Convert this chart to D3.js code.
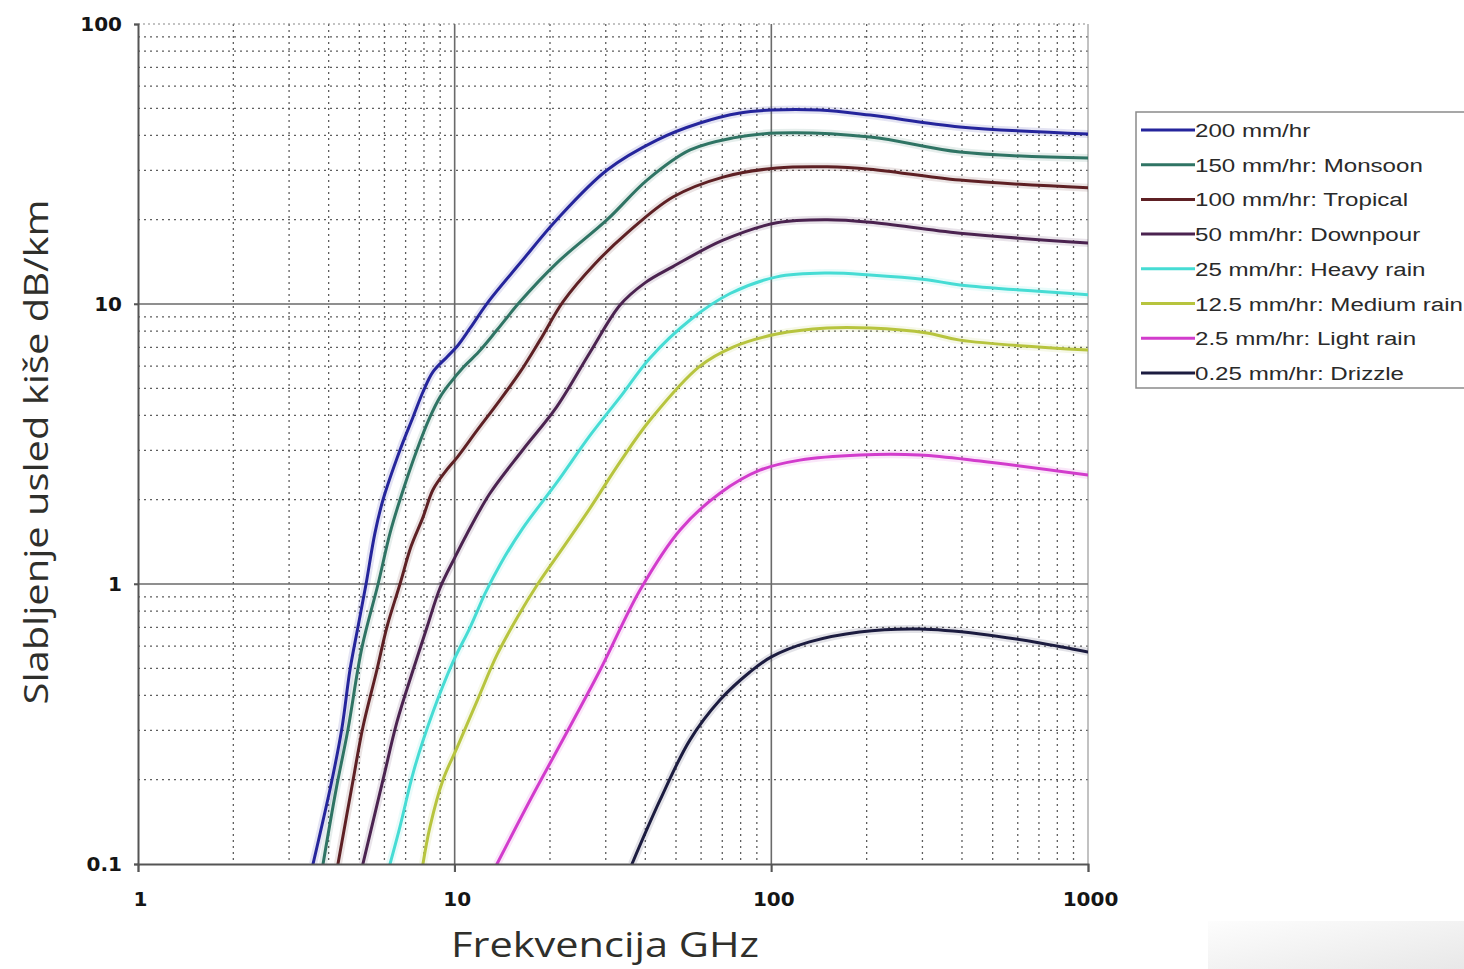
<!DOCTYPE html>
<html>
<head>
<meta charset="utf-8">
<script src="https://cdn.jsdelivr.net/npm/d3@7"></script>
<style>
  html, body { margin: 0; padding: 0; background: #ffffff; }
  svg { display: block; }
</style>
</head>
<body>
<svg id="chart" width="1464" height="969"></svg>
<script>
// Rain attenuation (dB/km) against frequency (GHz), one curve per rain rate.
const xTickLabels = ["1", "10", "100", "1000"];
const yTickLabels = ["0.1", "1", "10", "100"];
const xTickValues = [1, 10, 100, 1000];
const yTickValues = [0.1, 1, 10, 100];

const seriesNames = [
  "200 mm/hr",
  "150 mm/hr: Monsoon",
  "100 mm/hr: Tropical",
  "50 mm/hr: Downpour",
  "25 mm/hr: Heavy rain",
  "12.5 mm/hr: Medium rain",
  "2.5 mm/hr: Light rain",
  "0.25 mm/hr: Drizzle"
];

const r200Freq = [3.57, 4.10, 4.41, 4.67, 4.95, 5.25, 5.60, 5.94, 6.72, 7.39, 7.94, 8.54, 9.46, 10.2, 11.2, 12.7, 16.1, 21.0, 30.3, 43.5, 59.5, 79.6, 100, 142, 205, 394, 1000];
const r200Att  = [0.1, 0.20, 0.308, 0.493, 0.702, 1.0, 1.52, 2.0, 3.01, 3.95, 4.85, 5.72, 6.47, 7.08, 8.21, 10.1, 14.0, 20.0, 30.1, 38.5, 44.3, 48.1, 49.3, 49.3, 47.3, 42.9, 40.5];

const r150Freq = [3.84, 4.22, 4.60, 5.10, 5.73, 6.25, 6.72, 7.60, 8.36, 8.99, 9.67, 10.6, 11.9, 13.6, 16.1, 21.0, 30.3, 40.5, 55.4, 75.7, 104, 205, 394, 1000];
const r150Att  = [0.1, 0.184, 0.301, 0.596, 1.0, 1.52, 2.0, 3.01, 3.95, 4.65, 5.22, 5.91, 6.74, 8.07, 10.2, 14.0, 20.0, 27.7, 35.5, 39.2, 40.8, 39.5, 34.9, 33.2];

const r100Freq = [4.28, 4.78, 5.13, 5.68, 6.11, 6.72, 7.28, 7.94, 8.54, 9.32, 10.2, 11.8, 13.6, 16.1, 18.6, 22.0, 27.7, 35.0, 48.9, 70.4, 104, 150, 205, 394, 1000];
const r100Att  = [0.1, 0.2, 0.308, 0.493, 0.702, 1.0, 1.36, 1.73, 2.17, 2.51, 2.84, 3.55, 4.39, 5.72, 7.43, 10.2, 13.9, 17.9, 24.1, 28.4, 30.6, 30.9, 30.3, 27.7, 26.0];

const r50Freq = [5.13, 5.94, 6.57, 7.39, 8.18, 8.99, 10.0, 10.9, 12.9, 16.4, 21.0, 26.8, 33.3, 39.9, 48.9, 70.4, 104, 150, 205, 394, 1000];
const r50Att  = [0.1, 0.2, 0.321, 0.493, 0.702, 0.968, 1.24, 1.50, 2.10, 3.01, 4.29, 6.74, 9.92, 11.9, 13.6, 16.9, 19.5, 20.0, 19.6, 17.9, 16.5];

const r25Freq = [6.25, 6.72, 7.44, 8.54, 9.88, 11.2, 12.5, 13.9, 16.4, 21.0, 26.8, 33.3, 41.4, 55.4, 74.1, 104, 150, 205, 310, 394, 1000];
const r25Att  = [0.1, 0.136, 0.217, 0.349, 0.527, 0.702, 0.929, 1.17, 1.58, 2.30, 3.40, 4.65, 6.42, 8.77, 10.9, 12.5, 12.9, 12.7, 12.2, 11.7, 10.8];

const r12Freq = [7.94, 8.36, 9.19, 10.2, 11.8, 13.6, 15.8, 18.3, 22.3, 26.8, 33.3, 41.4, 59.5, 75.7, 104, 150, 205, 310, 394, 1000];
const r12Att  = [0.1, 0.136, 0.2, 0.262, 0.385, 0.558, 0.762, 1.0, 1.38, 1.87, 2.73, 3.85, 6.0, 7.02, 7.81, 8.21, 8.21, 7.88, 7.43, 6.85];

const r2Freq = [13.6, 17.3, 21.5, 28.8, 38.5, 51.5, 68.8, 92, 123, 190, 294, 456, 1000];
const r2Att  = [0.1, 0.169, 0.266, 0.493, 0.952, 1.56, 2.11, 2.55, 2.77, 2.89, 2.89, 2.75, 2.45];

const r025Freq = [36.3, 44.5, 55.3, 68.8, 85.6, 100, 132, 190, 294, 456, 705, 1000];
const r025Att  = [0.1, 0.169, 0.277, 0.385, 0.485, 0.549, 0.621, 0.674, 0.69, 0.663, 0.616, 0.572];

const seriesColors = ["#25259c", "#2f7464", "#5e2024", "#4b2350", "#46dcd4", "#b7c43e", "#d23ccc", "#1c1c40"];

const seriesFreq = [r200Freq, r150Freq, r100Freq, r50Freq, r25Freq, r12Freq, r2Freq, r025Freq];
const seriesAtt  = [r200Att, r150Att, r100Att, r50Att, r25Att, r12Att, r2Att, r025Att];

const series = seriesNames.map((name, i) => ({
  name,
  color: seriesColors[i],
  points: seriesFreq[i].map((f, j) => ({ f, a: seriesAtt[i][j] }))
}));

const svg = d3.select("#chart");
const plot = { left: 138, right: 1088, top: 24, bottom: 864 };

const x = d3.scaleLog().domain([1, 1000]).range([plot.left, plot.right]);
const y = d3.scaleLog().domain([0.1, 100]).range([plot.bottom, plot.top]);

// soft gray panel in the lower right corner of the page
const defs = svg.append("defs");
const grad = defs.append("linearGradient").attr("id", "panelFade")
  .attr("x1", "0%").attr("x2", "100%").attr("y1", "0%").attr("y2", "100%");
grad.append("stop").attr("offset", "0%").attr("stop-color", "#fdfdfd");
grad.append("stop").attr("offset", "100%").attr("stop-color", "#e8e8e8");
svg.append("rect").attr("x", 1208).attr("y", 921).attr("width", 256).attr("height", 48)
  .attr("fill", "url(#panelFade)");

defs.append("clipPath").attr("id", "plotClip").append("rect")
  .attr("x", plot.left).attr("y", plot.top - 2)
  .attr("width", plot.right - plot.left).attr("height", plot.bottom - plot.top + 2);

// minor gridlines: 2..9 within each decade, dotted
const minorX = [];
const minorY = [];
for (let d = 1; d < 1000; d *= 10) for (let k = 2; k <= 9; k++) minorX.push(d * k);
for (let d = 0.1; d < 99; d *= 10) for (let k = 2; k <= 9; k++) minorY.push(+(d * k).toPrecision(3));

const grid = svg.append("g");
grid.selectAll("line.mx").data(minorX).join("line")
  .attr("x1", d => x(d)).attr("x2", d => x(d))
  .attr("y1", plot.top).attr("y2", plot.bottom)
  .attr("stroke", "#5e5e5e").attr("stroke-width", 1.3)
  .attr("stroke-dasharray", "2,4");
grid.selectAll("line.my").data(minorY).join("line")
  .attr("x1", plot.left).attr("x2", plot.right)
  .attr("y1", d => y(d)).attr("y2", d => y(d))
  .attr("stroke", "#5e5e5e").attr("stroke-width", 1.3)
  .attr("stroke-dasharray", "2,4");

// top and right frame edges
grid.append("line").attr("x1", plot.left).attr("x2", plot.right)
  .attr("y1", plot.top).attr("y2", plot.top)
  .attr("stroke", "#888").attr("stroke-width", 1.2).attr("stroke-dasharray", "2,3");
grid.append("line").attr("x1", plot.right).attr("x2", plot.right)
  .attr("y1", plot.top).attr("y2", plot.bottom)
  .attr("stroke", "#999").attr("stroke-width", 1.2);

// major gridlines at decades
grid.selectAll("line.Mx").data([10, 100]).join("line")
  .attr("x1", d => x(d)).attr("x2", d => x(d))
  .attr("y1", plot.top).attr("y2", plot.bottom + 8)
  .attr("stroke", "#6a6a6a").attr("stroke-width", 1.6);
grid.selectAll("line.My").data([1, 10]).join("line")
  .attr("x1", plot.left - 4).attr("x2", plot.right)
  .attr("y1", d => y(d)).attr("y2", d => y(d))
  .attr("stroke", "#6a6a6a").attr("stroke-width", 1.6);

// curves
const line = d3.line()
  .x(d => x(d.f))
  .y(d => y(d.a))
  .curve(d3.curveCatmullRom.alpha(0.5));

const curves = svg.append("g").attr("clip-path", "url(#plotClip)");
curves.selectAll("path.halo").data(series).join("path")
  .attr("d", d => line(d.points))
  .attr("fill", "none")
  .attr("stroke", d => d.color)
  .attr("stroke-opacity", 0.12)
  .attr("stroke-width", 8)
  .attr("stroke-linejoin", "round");
curves.selectAll("path.curve").data(series).join("path")
  .attr("d", d => line(d.points))
  .attr("fill", "none")
  .attr("stroke", d => d.color)
  .attr("stroke-width", 3)
  .attr("stroke-linejoin", "round")
  .attr("stroke-linecap", "round");

// axes
const xAxis = d3.axisBottom(x).tickValues(xTickValues)
  .tickFormat((d, i) => xTickLabels[i]).tickSize(8).tickPadding(20);
const yAxis = d3.axisLeft(y).tickValues(yTickValues)
  .tickFormat((d, i) => yTickLabels[i]).tickSize(4).tickPadding(12);

const gx = svg.append("g").attr("transform", `translate(0,${plot.bottom})`).call(xAxis);
const gy = svg.append("g").attr("transform", `translate(${plot.left},0)`).call(yAxis);

[gx, gy].forEach(g => {
  g.select(".domain").attr("stroke", "#555").attr("stroke-width", 2);
  g.selectAll(".tick line").attr("stroke", "#555").attr("stroke-width", 1.6);
  g.selectAll(".tick text")
    .attr("font-family", "'DejaVu Sans', sans-serif")
    .attr("font-weight", "bold")
    .attr("font-size", 20)
    .attr("fill", "#151515");
});
gx.selectAll(".tick text").attr("dx", 2);

// axis titles
svg.append("text")
  .attr("x", 605).attr("y", 957)
  .attr("text-anchor", "middle")
  .attr("font-family", "'Open Sans', sans-serif")
  .attr("font-size", 34)
  .attr("fill", "#2f2f2b")
  .attr("textLength", 308).attr("lengthAdjust", "spacingAndGlyphs")
  .text("Frekvencija GHz");

svg.append("text")
  .attr("transform", "translate(48,452) rotate(-90)")
  .attr("text-anchor", "middle")
  .attr("font-family", "'Open Sans', sans-serif")
  .attr("font-size", 32)
  .attr("fill", "#2f2f2b")
  .attr("textLength", 505).attr("lengthAdjust", "spacingAndGlyphs")
  .text("Slabljenje usled kiše dB/km");

// legend
const legend = svg.append("g");
legend.append("rect")
  .attr("x", 1136).attr("y", 112).attr("width", 340).attr("height", 276)
  .attr("fill", "#ffffff").attr("stroke", "#8a8a8a").attr("stroke-width", 1.5);

const rowY = i => 130 + i * 34.7;
const items = legend.selectAll("g.item").data(series).join("g");
items.append("line")
  .attr("x1", 1141).attr("x2", 1195)
  .attr("y1", (d, i) => rowY(i)).attr("y2", (d, i) => rowY(i))
  .attr("stroke", d => d.color).attr("stroke-width", 3);
items.append("text")
  .attr("transform", (d, i) => `translate(1195,${rowY(i) + 7}) scale(1.27,1)`)
  .attr("font-family", "'Liberation Sans', Arial, sans-serif")
  .attr("font-size", 19)
  .attr("fill", "#2a2a2a")
  .text(d => d.name);
</script>
</body>
</html>
